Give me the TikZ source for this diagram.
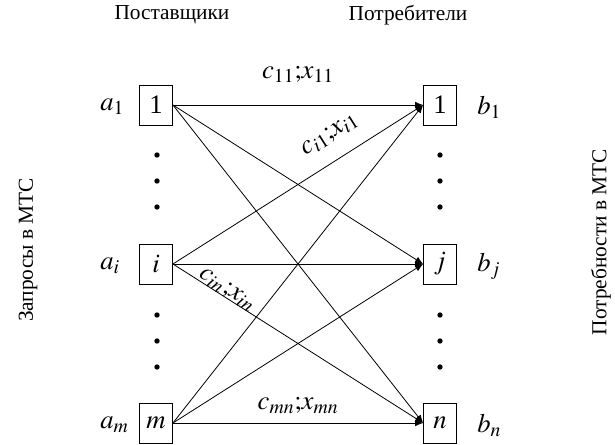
\documentclass[tikz,border=0pt]{standalone}
\usepackage{mathptmx}
\usepackage{fontspec}
\setmainfont{Liberation Serif}
\usepackage{tikz}
\usetikzlibrary{arrows.meta,positioning,calc}

\begin{document}
\begin{tikzpicture}[x=0.75pt,y=-0.75pt,>={Latex[length=6pt,width=5pt]},
font=\fontsize{16}{19}\selectfont,
big/.style={font=\fontsize{20}{24}\selectfont},
pt/.style={draw,big,minimum width=25pt,minimum height=30pt,inner sep=0pt},
lbl/.style={anchor=west,big,inner sep=0pt},
dot/.style={fill,circle,inner sep=0pt,minimum size=4pt},
link/.style={->,line width=0.6pt},lab/.style={big,inner sep=1pt}]
\useasboundingbox (0,0) rectangle (615,444);
% suppliers and consumers
\node[pt] (s1) at (156,105) {1};
\node[pt] (si) at (156,264) {$i$};
\node[pt] (sm) at (156,423) {$m$};
\node[pt] (d1) at (440,105) {1};
\node[pt] (dj) at (440,264) {$j$};
\node[pt] (dn) at (440,423) {$n$};
\node[lbl] (a1) at (100,107) {$a_1$};
\node[lbl] (ai) at (100,266) {$a_i$};
\node[lbl] (am) at (100,425) {$a_m$};
\node[lbl] (b1) at (477,107) {$b_1$};
\node[lbl] (bj) at (477,266) {$b_j$};
\node[lbl] (bn) at (477,425) {$b_n$};
\foreach \y in {155,181,207,315,341,367} {
  \node[dot] at (157,\y) {};
  \node[dot] at (440,\y) {};
}
\node (hs) at (172,15) {Поставщики};
\node (hd) at (408,15) {Потребители};
\node[rotate=90] (ls) at (28,250) {Запросы в МТС};
\node[rotate=90] (ld) at (601,242) {Потребности в МТС};
% links
\foreach \s in {s1,si,sm} \foreach \d in {d1,dj,dn}
  \draw[link] (\s.east)--(\d.west);
\path (s1.east)--(d1.west) node[pos=.5,above=16pt,lab] {$c_{11}{;}x_{11}$};
\path (si.east)--(d1.west) node[pos=.68,above=11pt,sloped,lab] {$c_{i1}{;}x_{i1}$};
\path (si.east)--(dn.west) node[pos=.2,above=-2pt,sloped,lab] {$c_{in}{;}x_{in}$};
\path (sm.east)--(dn.west) node[pos=.5,above=6pt,lab] {$c_{mn}{;}x_{mn}$};
\end{tikzpicture}
\end{document}
